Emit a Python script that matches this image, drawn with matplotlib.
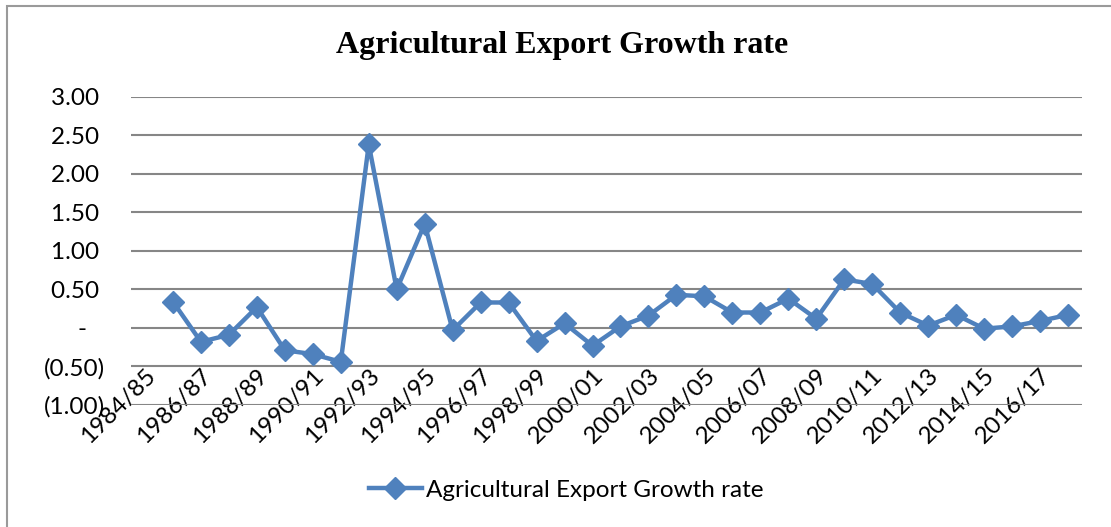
import numpy as np
import matplotlib
matplotlib.use("Agg")
import matplotlib.pyplot as plt
from matplotlib.patches import Rectangle

categories = ['1984/85', '1985/86', '1986/87', '1987/88', '1988/89', '1989/90',
              '1990/91', '1991/92', '1992/93', '1993/94', '1994/95', '1995/96',
              '1996/97', '1997/98', '1998/99', '1999/00', '2000/01', '2001/02',
              '2002/03', '2003/04', '2004/05', '2005/06', '2006/07', '2007/08',
              '2008/09', '2009/10', '2010/11', '2011/12', '2012/13', '2013/14',
              '2014/15', '2015/16', '2016/17', '2017/18']
growth_rate = [np.nan, 0.34, -0.18, -0.09, 0.27, -0.29, -0.34, -0.44, 2.38, 0.50,
               1.35, -0.03, 0.33, 0.33, -0.17, 0.06, -0.23, 0.02, 0.16, 0.43,
               0.41, 0.20, 0.20, 0.38, 0.12, 0.63, 0.57, 0.20, 0.03, 0.17,
               -0.01, 0.02, 0.09, 0.17]
y_ticks = [-1.0, -0.5, 0.0, 0.5, 1.0, 1.5, 2.0, 2.5, 3.0]
title = 'Agricultural Export Growth rate'
series_name = 'Agricultural Export Growth rate'

W, H = 1111, 527
fig = plt.figure(figsize=(W / 100, H / 100), dpi=100)
fig.patch.set_facecolor('white')

# chart border
fig.patches.append(Rectangle((7 / W, 0 - 0.05), 1.2, 1 - 6 / H + 0.05,
                             transform=fig.transFigure, fill=False,
                             edgecolor='#9a9a9a', linewidth=1.5))

ax = fig.add_axes([131 / W, 1 - 405 / H, (1082 - 131) / W, (405 - 96.7) / H])
x = np.arange(len(categories))
color = '#4F81BD'
ax.plot(x, growth_rate, color=color, linewidth=3.2, marker='D', markersize=11.5,
        label=series_name, zorder=3)

ax.set_xlim(-0.5, len(categories) - 0.5)
ax.set_ylim(-1.0, 3.0)
ax.set_yticks(y_ticks)


def fmt(v):
    if abs(v) < 1e-9:
        return '-   '
    if v < 0:
        return '(%.2f)' % abs(v)
    return '%.2f ' % v


FS = 17.5
ax.set_yticklabels([fmt(v) for v in y_ticks], fontfamily='Lato', fontsize=FS)
ax.grid(axis='y', color='#868686', linewidth=1.5)
ax.set_axisbelow(True)
for s in ax.spines.values():
    s.set_visible(False)
ax.tick_params(axis='y', length=0, pad=18.5)

ax.set_xticks(x[::2])
ax.set_xticklabels(categories[::2], rotation=45, ha='right', va='top',
                   rotation_mode='anchor', fontfamily='Lato', fontsize=FS)
ax.tick_params(axis='x', length=0, pad=-29)

fig.text(562 / W, 1 - 46 / H, title, ha='center', va='center',
         fontfamily='Liberation Serif', fontweight='bold', fontsize=23)

leg = fig.legend(loc='center', bbox_to_anchor=(566 / W, 1 - 490 / H),
                 frameon=False, prop={'family': 'Lato', 'size': FS},
                 handlelength=2.2, handletextpad=0.15)

fig.savefig('out.png', dpi=100)
